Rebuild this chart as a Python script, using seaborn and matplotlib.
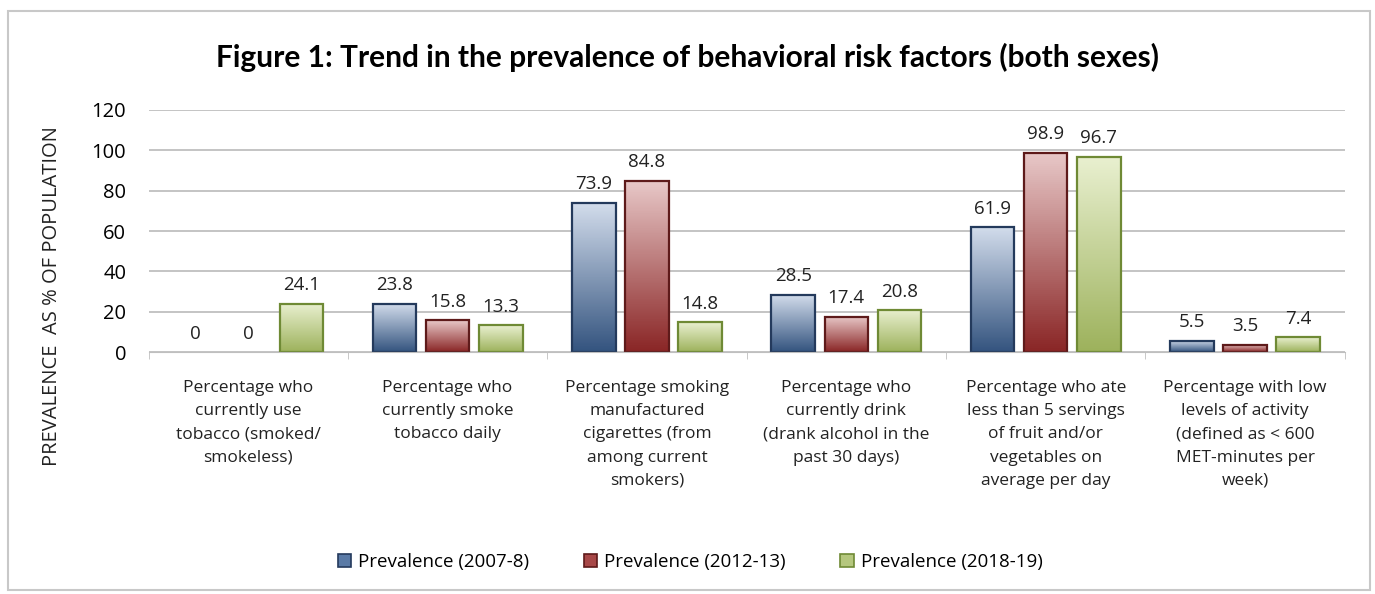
import numpy as np
import pandas as pd
import matplotlib
matplotlib.use("Agg")
import matplotlib.pyplot as plt
import seaborn as sns
from matplotlib.colors import LinearSegmentedColormap
from matplotlib.patches import Rectangle

categories = [
    "Percentage who\ncurrently use\ntobacco (smoked/\nsmokeless)",
    "Percentage who\ncurrently smoke\ntobacco daily",
    "Percentage smoking\nmanufactured\ncigarettes (from\namong current\nsmokers)",
    "Percentage who\ncurrently drink\n(drank alcohol in the\npast 30 days)",
    "Percentage who ate\nless than 5 servings\nof fruit and/or\nvegetables on\naverage per day",
    "Percentage with low\nlevels of activity\n(defined as < 600\nMET-minutes per\nweek)",
]
series = ["Prevalence (2007-8)", "Prevalence (2012-13)", "Prevalence (2018-19)"]
prev_2007 = [0, 23.8, 73.9, 28.5, 61.9, 5.5]
prev_2012 = [0, 15.8, 84.8, 17.4, 98.9, 3.5]
prev_2018 = [24.1, 13.3, 14.8, 20.8, 96.7, 7.4]
y_ticks = [0, 20, 40, 60, 80, 100, 120]

df = pd.DataFrame({
    "Category": categories * 3,
    "Series": [series[0]] * 6 + [series[1]] * 6 + [series[2]] * 6,
    "Value": prev_2007 + prev_2012 + prev_2018,
})

mid_colors = ["#5a7aa6", "#a84848", "#b5c77e"]
grad = [("#d3ddec", "#34547f"), ("#e8c8c8", "#8a2626"), ("#e9f0d0", "#9db25c")]
edges = ["#243a5c", "#5e1a1a", "#6f8a35"]

plt.rcParams["font.family"] = ["Open Sans", "DejaVu Sans"]

fig = plt.figure(figsize=(13.75, 5.94), dpi=100)
ax = fig.add_axes([0.108, 0.407, 0.870, 0.408])

sns.barplot(data=df, x="Category", y="Value", hue="Series", palette=mid_colors,
            width=0.8, gap=0.18, ax=ax, legend=False)

# gradient fill per bar, clipped to its rectangle
for i, cont in enumerate(ax.containers):
    cmap = LinearSegmentedColormap.from_list("g", [grad[i][1], grad[i][0]])
    for p in cont.patches:
        x0, w, h = p.get_x(), p.get_width(), p.get_height()
        if h <= 0:
            p.set_visible(False)
            continue
        p.set_edgecolor(edges[i])
        p.set_linewidth(1.6)
        img = np.linspace(0, 1, 100).reshape(-1, 1)
        im = ax.imshow(img, cmap=cmap, aspect="auto", origin="lower",
                       extent=[x0, x0 + w, 0, h], zorder=p.get_zorder() - 0.1)
        im.set_clip_path(p)
        p.set_facecolor("none")
    ax.bar_label(cont, labels=[f"{v:g}" for v in cont.datavalues], padding=7,
                 fontsize=13.5, color="#222222")

ax.set_xlim(-0.5, 5.5)
ax.set_ylim(0, 120)
ax.set_yticks(y_ticks)
ax.tick_params(axis="y", length=0, labelsize=14.5, pad=16)
ax.yaxis.grid(True, color="#bfbfbf", linewidth=1.3)
ax.set_axisbelow(True)
ax.set_xticks(np.arange(6))
ax.set_xticklabels(categories, fontsize=12.5, linespacing=1.6, color="#222222")
ax.tick_params(axis="x", length=0, pad=20)
ax.set_xticks(np.arange(-0.5, 6, 1), minor=True)
ax.tick_params(axis="x", which="minor", length=5, color="#bfbfbf")
for s in ["top", "right", "left"]:
    ax.spines[s].set_visible(False)
ax.spines["bottom"].set_color("#bfbfbf")
ax.set_xlabel("")
ax.set_ylabel("PREVALENCE  AS % OF POPULATION", fontsize=14.5, color="#222222")
ax.yaxis.set_label_coords(-0.072, 0.23)

fig.suptitle("Figure 1: Trend in the prevalence of behavioral risk factors (both sexes)",
             x=0.5, y=0.928, fontsize=21.5, fontweight="bold", family=["Lato", "DejaVu Sans"])

handles = [Rectangle((0, 0), 1, 1, facecolor=mid_colors[i], edgecolor=edges[i], linewidth=1.2)
           for i in range(3)]
fig.legend(handles, series, loc="center", bbox_to_anchor=(0.502, 0.054), ncol=3, frameon=False,
           fontsize=13.5, handlelength=0.7, handleheight=0.7, columnspacing=2.9, handletextpad=0.4)

fig.add_artist(Rectangle((0.006, 0.006), 0.99, 0.975, transform=fig.transFigure,
                         fill=False, edgecolor="#c8c8c8", linewidth=1.5))

fig.savefig("out.png", dpi=100)
